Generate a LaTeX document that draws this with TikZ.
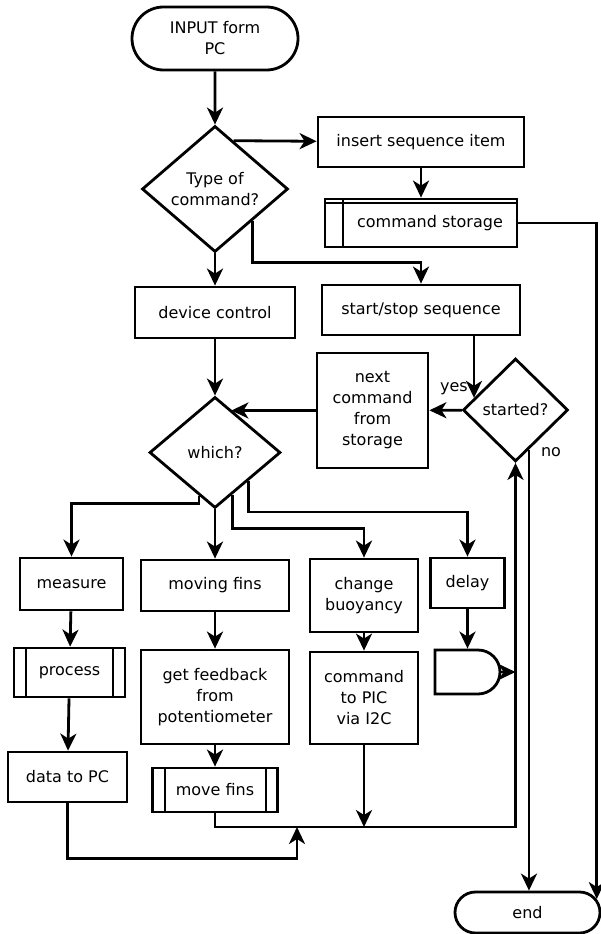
\documentclass[tikz,border=0pt]{standalone}
\usepackage{fontspec}
\setmainfont{DejaVu Sans}
\usepackage{tikz}
\usetikzlibrary{arrows.meta, shapes.geometric, shapes.misc, calc}
\tikzset{>={Stealth[length=17pt,width=16pt,inset=5pt]}}
\tikzset{
  shapebase/.style={draw, line width=2.8pt, inner sep=0pt, align=center, font=\fontsize{16}{21}\selectfont},
  termbox/.style={shapebase, rounded rectangle},
  procbox/.style={shapebase, rectangle},
  decision/.style={shapebase, diamond},
  predef/.style={procbox, path picture={
    \draw[line width=2pt] ([xshift=12pt]path picture bounding box.north west) -- ([xshift=12pt]path picture bounding box.south west);
    \draw[line width=2pt] ([xshift=-12pt]path picture bounding box.north east) -- ([xshift=-12pt]path picture bounding box.south east);}},
  storage/.style={procbox, path picture={
    \draw[line width=2pt] ([xshift=18pt]path picture bounding box.north west) -- ([xshift=18pt]path picture bounding box.south west);
    \draw[line width=2pt] ([yshift=-4pt]path picture bounding box.north west) -- ([yshift=-4pt]path picture bounding box.north east);}},
  waitshape/.style={shapebase, rounded rectangle, rounded rectangle left arc=none},
  lbl/.style={font=\fontsize{16}{21}\selectfont}
}

\begin{document}
\begin{tikzpicture}[x=1pt, y=-1pt, line width=2.8pt]

            \useasboundingbox (0,0) rectangle (600,934);

            \node[termbox, minimum width=166pt, minimum height=63pt] (Input) at (215,38.5) {INPUT form\\PC};
            \node[decision, minimum width=146pt, minimum height=126pt] (Type) at (215,189) {Type of\\command?};
            \node[procbox, minimum width=206pt, minimum height=50pt] (Ins) at (421,142) {insert sequence item};
            \node[storage, minimum width=192pt, minimum height=48pt] (Store) at (421,223) {\hspace*{18pt}command storage};
            \node[procbox, minimum width=160pt, minimum height=51pt] (Dev) at (215,312.5) {device control};
            \node[procbox, minimum width=198pt, minimum height=50pt] (SS) at (421,310) {start/stop sequence};
            \node[decision, minimum width=105pt, minimum height=103pt] (Started) at (515.5,410) {started?};
            \node[procbox, minimum width=111pt, minimum height=115pt] (Next) at (372.5,410.5) {next\\command\\from\\storage};
            \node[decision, minimum width=131pt, minimum height=111pt] (Which) at (215,452.5) {which?};
            \node[procbox, minimum width=103pt, minimum height=52pt] (Meas) at (71.5,584) {measure};
            \node[predef, minimum width=111pt, minimum height=49pt] (Proc) at (69.5,672.5) {process};
            \node[procbox, minimum width=119pt, minimum height=50pt] (Data) at (67.5,777) {data to PC};
            \node[procbox, minimum width=148pt, minimum height=51pt] (Fins) at (215,585.5) {moving fins};
            \node[procbox, minimum width=148pt, minimum height=94pt] (Feed) at (215,697) {get feedback\\from\\potentiometer};
            \node[predef, minimum width=125pt, minimum height=44pt] (Move) at (215,790) {move fins};
            \node[procbox, minimum width=108pt, minimum height=73pt] (Buoy) at (364,595.5) {change\\buoyancy};
            \node[procbox, minimum width=108pt, minimum height=92pt] (PIC) at (364,698) {command\\to PIC\\via I2C};
            \node[procbox, minimum width=74pt, minimum height=50pt] (Delay) at (467.5,583) {delay};
            \node[waitshape, minimum width=65pt, minimum height=44pt] (Wait) at (467.5,672) {};
            \node[termbox, minimum width=145pt, minimum height=41pt] (End) at (527.5,912.5) {end};

            \node[lbl] (yes) at (454,389) {yes};
            \node[lbl] (no) at (551,452) {no};

            \coordinate (tA) at ($(Type.north)!.25!(Type.east)$);
            \coordinate (sIn) at ($(Started.west)!.23!(Started.north)$);
            \coordinate (sOut) at ($(Started.south)!.25!(Started.east)$);
            \coordinate (wIn) at ($(Which.north)!.245!(Which.east)$);
            \coordinate (wL) at ($(Which.west)!.76!(Which.south)$);
            \coordinate (wR) at ($(Which.south)!.26!(Which.east)$);
            \coordinate (bus) at (297,827);

            \draw [->] (Input)--(Type);
            \draw [->] (tA)--(Ins);
            \draw [->] (Ins)--(Store);
            \draw [->] (Store.east) -| (End.11);
            \draw [->] (Type)--(Dev);
            \draw [->] (Type.south east) -- ++(0,41) -| (SS);
            \draw [->] (SS.south -| sIn) -- (sIn);
            \draw [->] (Started)--(Next);
            \draw [->] (Next.west) -- (Next.west -| wIn);
            \draw [->] (sOut) -- (sOut |- End.north);
            \draw [->] (Dev)--(Which);
            \draw [->] (wL) -- ++(0,8) -| (Meas);
            \draw [->] (Which)--(Fins);
            \draw [->] (wR) -- ++(0,34) -| (Buoy);
            \draw [->] (Which.south east) -- ++(0,31) -| (Delay);
            \draw [->] (Meas)--(Proc);
            \draw [->] (Proc)--(Data);
            \draw [->] (Fins)--(Feed);
            \draw [->] (Feed)--(Move);
            \draw [->] (Buoy)--(PIC);
            \draw [->] (Delay)--(Wait);
            \draw [->] (Wait.east) -- (Wait.east -| Started.south);
            \draw [->] (PIC) -- (PIC |- bus);
            \draw [->] (Move) |- (bus) -| (Started);
            \draw [->] (Data.south) -- ++(0,55) -| (bus);
            \end{tikzpicture}
\end{document}
